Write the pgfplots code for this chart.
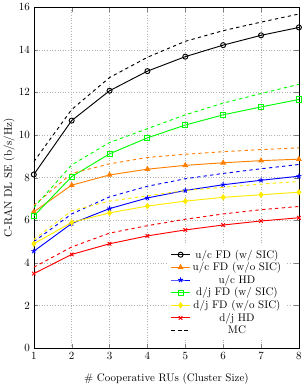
\documentclass[border=0pt]{standalone}
\usepackage{pgfplots}
\pgfplotsset{compat=1.18}
\definecolor{myorange}{RGB}{255,128,0}
\definecolor{myyellow}{RGB}{255,235,0}
\begin{document}
\begin{tikzpicture}
\begin{axis}[
  scale only axis,
  width=241pt, height=310pt,
  xmin=1, xmax=8, ymin=0, ymax=16,
  xtick={1,2,3,4,5,6,7,8},
  ytick={0,2,4,6,8,10,12,14,16},
  grid=major,
  grid style={dotted, gray!60},
  xlabel={\# Cooperative RUs (Cluster Size)},
  ylabel={C-RAN DL SE (b/s/Hz)},
  xlabel style={yshift=-6pt},
  ylabel style={yshift=-3pt},
  legend style={draw=none, fill=white, at={(0.955,0.025)}, anchor=south east, row sep=-1.5pt},
  legend cell align=center,
  every axis plot/.append style={line width=0.85pt},
  mark size=2.3pt,
]
\addplot[black, mark=o, mark options={solid}] coordinates {(1,8.15)(2,10.68)(3,12.08)(4,13.0)(5,13.68)(6,14.22)(7,14.68)(8,15.05)};
\addlegendentry{u/c FD (w/ SIC)}
\addplot[myorange, mark=triangle*, mark options={solid}] coordinates {(1,6.4)(2,7.65)(3,8.13)(4,8.4)(5,8.58)(6,8.7)(7,8.8)(8,8.87)};
\addlegendentry{u/c FD (w/o SIC)}
\addplot[blue, mark=star, mark options={solid}] coordinates {(1,4.55)(2,5.85)(3,6.55)(4,7.05)(5,7.4)(6,7.67)(7,7.88)(8,8.07)};
\addlegendentry{u/c HD}
\addplot[green, mark=square, mark options={solid}] coordinates {(1,6.2)(2,8.05)(3,9.12)(4,9.87)(5,10.47)(6,10.95)(7,11.32)(8,11.67)};
\addlegendentry{d/j FD (w/ SIC)}
\addplot[myyellow, mark=diamond*, mark options={solid}] coordinates {(1,4.9)(2,5.9)(3,6.35)(4,6.67)(5,6.9)(6,7.08)(7,7.2)(8,7.32)};
\addlegendentry{d/j FD (w/o SIC)}
\addplot[red, mark=x, mark options={solid}] coordinates {(1,3.5)(2,4.4)(3,4.9)(4,5.27)(5,5.55)(6,5.78)(7,5.97)(8,6.12)};
\addlegendentry{d/j HD}
\addplot[black, dashed] coordinates {(1,8.75)(2,11.2)(3,12.7)(4,13.65)(5,14.4)(6,14.9)(7,15.3)(8,15.68)};
\addlegendentry{MC}
\addplot[myorange, dashed, forget plot] coordinates {(1,6.7)(2,8.2)(3,8.65)(4,8.95)(5,9.1)(6,9.22)(7,9.32)(8,9.4)};
\addplot[blue, dashed, forget plot] coordinates {(1,5.0)(2,6.3)(3,7.1)(4,7.6)(5,7.95)(6,8.2)(7,8.42)(8,8.62)};
\addplot[green, dashed, forget plot] coordinates {(1,6.6)(2,8.6)(3,9.65)(4,10.3)(5,10.95)(6,11.5)(7,11.95)(8,12.38)};
\addplot[myyellow, dashed, forget plot] coordinates {(1,5.1)(2,6.45)(3,6.9)(4,7.15)(5,7.4)(6,7.55)(7,7.7)(8,7.82)};
\addplot[red, dashed, forget plot] coordinates {(1,3.8)(2,4.75)(3,5.4)(4,5.75)(5,6.05)(6,6.3)(7,6.5)(8,6.65)};
\end{axis}
\path ([xshift=7pt]current axis.south east);
\end{tikzpicture}
\end{document}
